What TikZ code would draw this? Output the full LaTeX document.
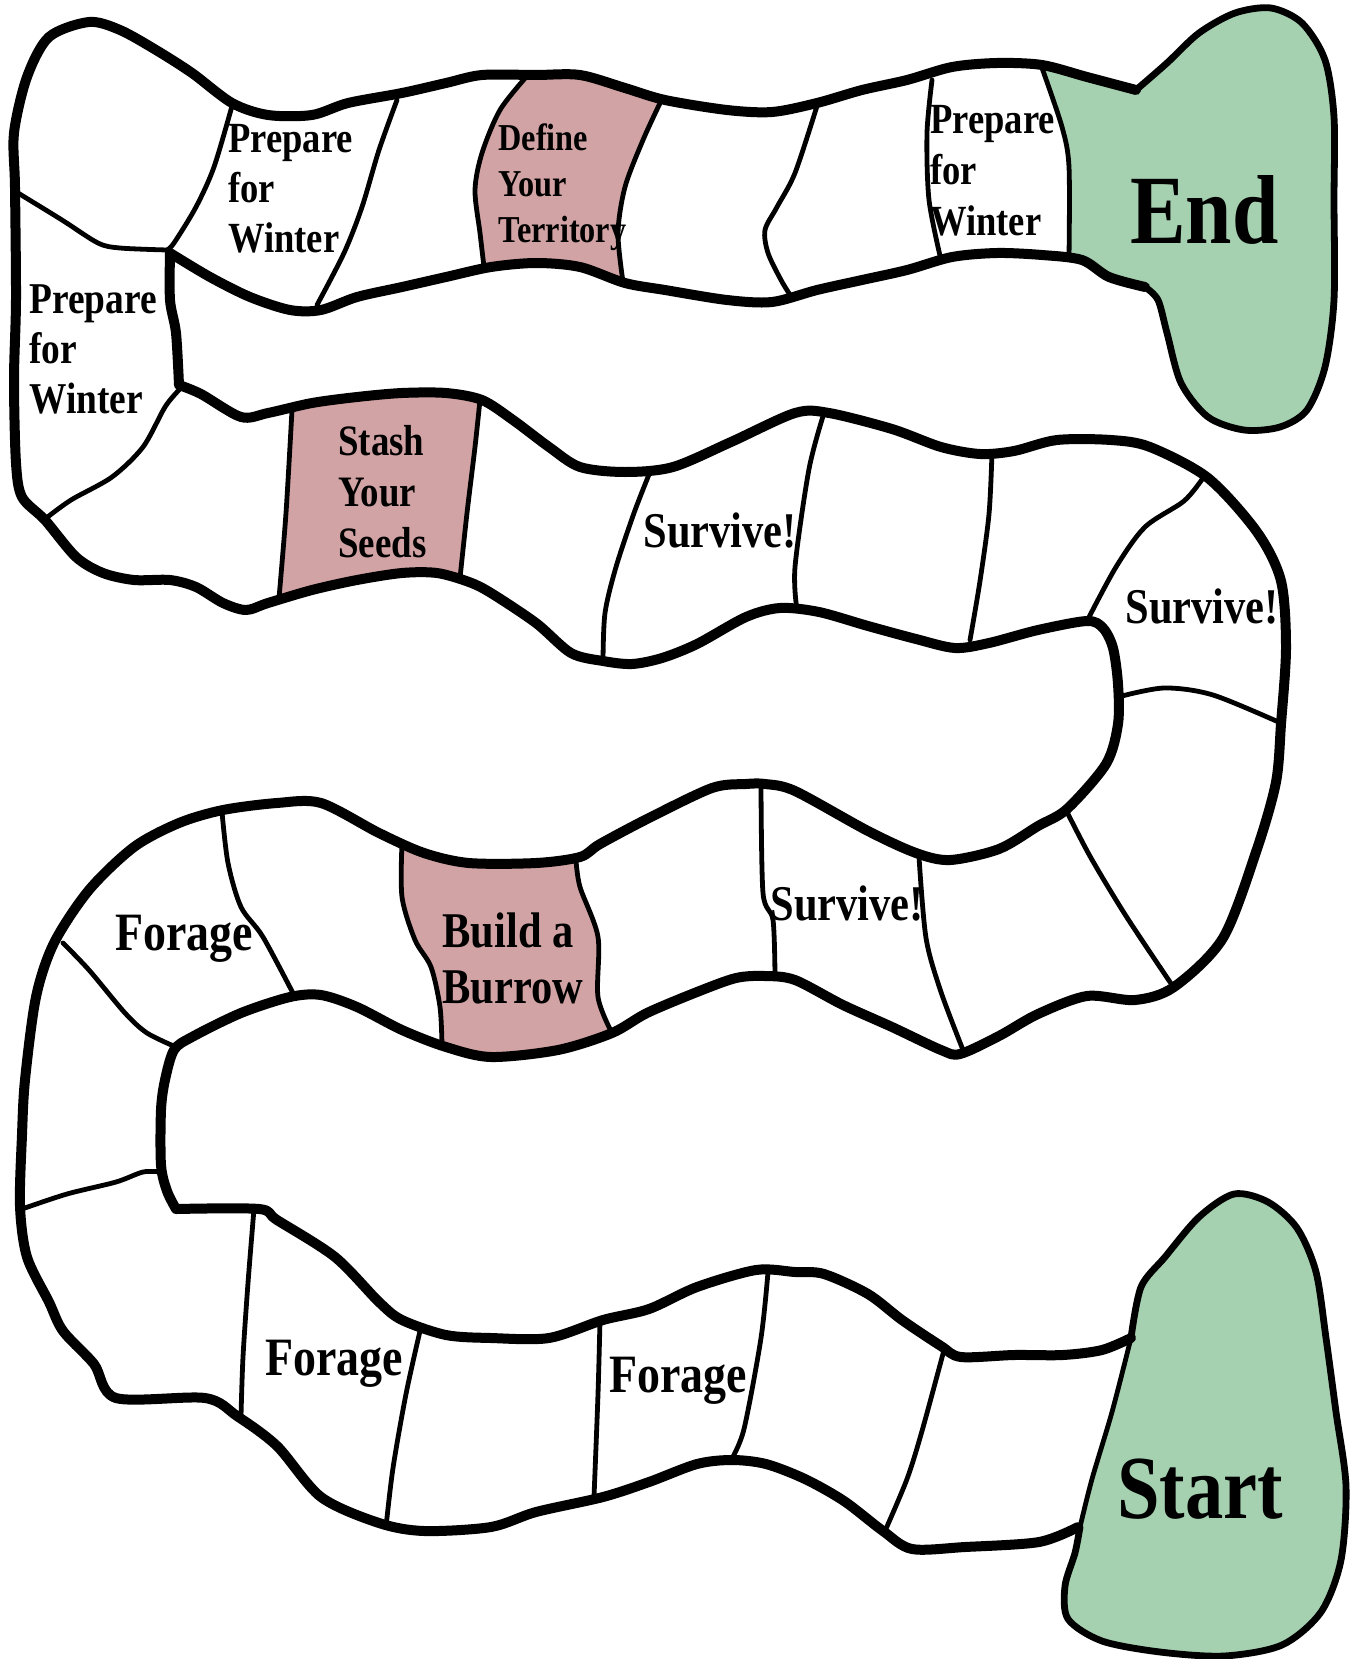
\documentclass[tikz,border=0pt]{standalone}
\usepackage{fontspec}
\setmainfont{Liberation Serif}[FakeStretch=0.85]
\definecolor{ink}{RGB}{0,0,0}
\definecolor{rose}{RGB}{210,163,164}
\definecolor{sage}{RGB}{165,209,176}
\begin{document}
\begin{tikzpicture}[x=0.5pt,y=-0.5pt,line cap=round,line join=round,
  edge/.style={ink,line width=5pt},
  divider/.style={ink,line width=2.4pt},
  rim/.style={ink,line width=3.4pt},
  lbl/.style={text=ink,anchor=base west,inner sep=0pt,align=left}]
\useasboundingbox (0,0) rectangle (1364,1659);
% coloured squares
\fill[rose] plot[smooth] coordinates {(527,76) (580,75) (625,88) (661,101)}
  -- plot[smooth] coordinates {(661,101) (643,140) (625,187) (618,233) (623,282)}
  -- plot[smooth] coordinates {(623,282) (580,267) (536,263) (484,267)}
  -- plot[smooth] coordinates {(484,267) (480,233) (475,190) (482,153) (500,110) (527,76)} -- cycle;
\fill[rose] plot[smooth] coordinates {(292,410) (312,403) (357,397) (402,393) (446,393) (480,400)}
  -- plot[smooth] coordinates {(480,400) (475,447) (467,513) (460,578)}
  -- plot[smooth] coordinates {(460,578) (437,573) (402,573) (357,580) (312,590) (279,598)}
  -- plot[smooth] coordinates {(279,598) (286,513) (292,410)} -- cycle;
\fill[rose] plot[smooth] coordinates {(402,843) (424,853) (469,863) (536,863) (576,860)}
  -- plot[smooth] coordinates {(576,860) (580,887) (598,937) (598,997) (612,1033)}
  -- plot[smooth] coordinates {(612,1033) (558,1050) (491,1057) (442,1046)}
  -- plot[smooth] coordinates {(442,1046) (440,1007) (431,967) (415,940) (402,897) (402,843)} -- cycle;
% end and start
\fill[sage] plot[smooth] coordinates {(1136,90) (1167,63) (1199,33) (1235,13) (1271,8) (1302,23) (1325,60) (1334,117) (1334,200) (1334,300) (1325,367) (1307,410) (1280,427) (1244,430) (1208,417) (1181,383) (1167,333) (1158,300) (1145,287) (1109,277) (1082,260) (1069,257)}
  -- plot[smooth] coordinates {(1069,257) (1069,167) (1062,127) (1042,68)}
  -- plot[smooth] coordinates {(1042,68) (1087,77) (1136,90)} -- cycle;
\fill[sage] plot[smooth] coordinates {(1131,1338) (1141,1287) (1165,1257) (1199,1217) (1234,1194) (1268,1202) (1297,1228) (1316,1272) (1326,1338) (1336,1412) (1346,1486) (1341,1560) (1321,1612) (1282,1645) (1224,1656) (1160,1652) (1102,1641) (1068,1619) (1065,1586) (1075,1553) (1080,1527)}
  -- plot[smooth] coordinates {(1080,1527) (1092,1479) (1112,1412) (1131,1338)} -- cycle;
\draw[rim] plot[smooth] coordinates {(1136,90) (1167,63) (1199,33) (1235,13) (1271,8) (1302,23) (1325,60) (1334,117) (1334,200) (1334,300) (1325,367) (1307,410) (1280,427) (1244,430) (1208,417) (1181,383) (1167,333) (1158,300) (1145,287)};
\draw[rim] plot[smooth] coordinates {(1131,1338) (1141,1287) (1165,1257) (1199,1217) (1234,1194) (1268,1202) (1297,1228) (1316,1272) (1326,1338) (1336,1412) (1346,1486) (1341,1560) (1321,1612) (1282,1645) (1224,1656) (1160,1652) (1102,1641) (1068,1619) (1065,1586) (1075,1553) (1080,1527)};
% track edges
\draw[edge] plot[smooth] coordinates {(1136,90) (1087,77) (1042,65) (997,63) (952,67) (907,80) (862,90) (817,103) (772,112) (727,110) (665,100) (625,88) (580,75) (536,75) (482,75) (446,83) (402,93) (348,103) (312,115) (268,115) (232,103) (192,73) (156,50) (120,30) (89,22) (49,37) (27,77) (14,133) (15,187) (16,300) (14,380) (16,463) (22,497) (45,520) (76,557) (103,573) (134,580) (170,580) (196,587) (223,603) (246,610) (268,603) (312,590) (357,580) (402,573) (437,573) (469,582) (491,593) (536,623) (571,653) (603,661) (632,664) (662,658) (697,644) (746,617) (780,608) (819,612) (868,626) (916,639) (955,648) (989,643) (1038,630) (1087,621) (1103,628) (1113,648) (1118,684) (1118,724) (1106,764) (1067,809) (1038,826) (999,849) (950,860) (916,853) (868,831) (795,791) (765,784) (746,784) (712,788) (649,818) (600,844) (580,857) (536,863) (469,863) (424,853) (379,833) (321,803) (277,803) (223,810) (179,823) (134,847) (89,890) (54,943) (36,997) (25,1080) (22,1135) (20,1206) (27,1257) (49,1302) (63,1331) (94,1364) (116,1398) (205,1398) (237,1416) (277,1446) (321,1497) (379,1523) (424,1531) (491,1527) (536,1512) (603,1497) (649,1482) (697,1464) (732,1460) (766,1464) (805,1479) (844,1501) (883,1531) (912,1549) (965,1547) (1039,1542) (1078,1527)};
\draw[edge] plot[smooth] coordinates {(1145,287) (1109,277) (1082,260) (1042,255) (997,253) (952,257) (907,270) (862,280) (817,290) (772,302) (727,300) (665,290) (625,283) (580,267) (536,263) (491,267) (446,277) (402,287) (357,297) (321,310) (290,310) (250,297) (210,277) (170,253)}
  -- plot[smooth] coordinates {(170,253) (170,300) (176,333) (179,385)}
  -- plot[smooth] coordinates {(179,385) (201,394) (241,417) (268,413) (312,403) (357,397) (402,393) (446,393) (482,400) (513,420) (549,447) (580,467) (625,472) (673,467) (731,442) (795,413) (829,413) (892,429) (941,447) (980,454) (1014,451) (1057,440) (1111,440) (1150,447) (1208,478) (1257,532) (1281,581) (1286,648) (1281,724) (1276,782) (1257,849) (1223,938) (1174,987) (1135,1000) (1087,996) (1038,1014) (999,1036) (960,1054) (941,1050) (892,1027) (843,1005) (795,980) (765,976) (736,978) (697,992) (647,1013) (612,1033) (558,1050) (491,1057) (446,1047) (402,1030) (357,1007) (321,995) (290,997) (241,1013) (192,1037) (174,1050) (165,1080) (161,1110) (161,1165) (167,1191) (176,1209)}
  -- plot[smooth] coordinates {(176,1209) (259,1209) (277,1220) (335,1257) (379,1302) (402,1320) (446,1335) (491,1338) (549,1338) (603,1320) (649,1309) (697,1287) (756,1270) (795,1272) (824,1274) (868,1294) (902,1320) (941,1346) (961,1357) (1014,1355) (1063,1355) (1102,1350) (1131,1338)};
% square borders
\draw[divider] plot[smooth] coordinates {(18,193) (62,220) (98,243) (120,248) (167,250)};
\draw[divider] plot[smooth] coordinates {(232,106) (214,167) (196,207) (174,243) (167,250)};
\draw[divider] plot[smooth] coordinates {(397,100) (379,150) (362,207) (344,253) (317,305)};
\draw[divider] plot[smooth] coordinates {(527,76) (500,110) (482,153) (475,190) (480,233) (484,267)};
\draw[divider] plot[smooth] coordinates {(661,101) (643,140) (625,187) (618,233) (623,282)};
\draw[divider] plot[smooth] coordinates {(817,106) (795,173) (777,207) (765,230) (768,253) (781,280) (792,298)};
\draw[divider] plot[smooth] coordinates {(932,80) (927,133) (929,200) (941,260)};
\draw[divider] plot[smooth] coordinates {(1042,68) (1062,127) (1069,167) (1069,257)};
\draw[divider] plot[smooth] coordinates {(179,390) (165,407) (143,447) (112,477) (71,500) (45,519)};
\draw[divider] plot[smooth] coordinates {(292,410) (286,513) (279,598)};
\draw[divider] plot[smooth] coordinates {(480,400) (475,447) (467,513) (460,578)};
\draw[divider] plot[smooth] coordinates {(650,472) (634,513) (616,567) (605,613) (603,661)};
\draw[divider] plot[smooth] coordinates {(824,413) (809,469) (795,567) (797,610)};
\draw[divider] plot[smooth] coordinates {(992,452) (989,514) (980,581) (970,640)};
\draw[divider] plot[smooth] coordinates {(1203,478) (1184,501) (1145,527) (1116,567) (1087,621)};
\draw[divider] plot[smooth] coordinates {(1118,697) (1164,688) (1213,695) (1283,724)};
\draw[divider] plot[smooth] coordinates {(1067,812) (1091,858) (1126,916) (1172,985)};
\draw[divider] plot[smooth] coordinates {(919,857) (926,938) (941,992) (963,1050)};
\draw[divider] plot[smooth] coordinates {(761,786) (763,893) (773,920) (775,976)};
\draw[divider] plot[smooth] coordinates {(576,860) (580,887) (598,937) (598,997) (612,1033)};
\draw[divider] plot[smooth] coordinates {(402,843) (402,897) (415,940) (431,967) (440,1007) (442,1046)};
\draw[divider] plot[smooth] coordinates {(222,812) (228,863) (241,907) (263,937) (295,997)};
\draw[divider] plot[smooth] coordinates {(63,943) (89,970) (125,1013) (147,1033) (176,1047)};
\draw[divider] plot[smooth] coordinates {(22,1209) (67,1194) (116,1182) (143,1172) (161,1172)};
\draw[divider] plot[smooth] coordinates {(254,1209) (248,1283) (243,1357) (241,1416)};
\draw[divider] plot[smooth] coordinates {(420,1331) (406,1394) (393,1468) (386,1527)};
\draw[divider] plot[smooth] coordinates {(600,1320) (598,1394) (594,1497)};
\draw[divider] plot[smooth] coordinates {(768,1272) (761,1338) (744,1429) (731,1460)};
\draw[divider] plot[smooth] coordinates {(944,1350) (922,1431) (907,1479) (885,1531)};
\draw[divider] plot[smooth] coordinates {(1131,1338) (1112,1412) (1092,1479) (1080,1527)};
% labels
\node[lbl,font=\fontsize{21.5}{25}\selectfont\bfseries] (prepTop) at (228,252) {Prepare\\for\\Winter};
\node[lbl,font=\fontsize{19}{23}\selectfont\bfseries] (territory) at (498,242) {Define\\Your\\Territory};
\node[lbl,font=\fontsize{21.5}{25.5}\selectfont\bfseries] (prepRight) at (930,235) {Prepare\\for\\Winter};
\node[lbl,font=\fontsize{49}{55}\selectfont\bfseries] (finish) at (1130,243) {End};
\node[lbl,font=\fontsize{22}{25}\selectfont\bfseries] (prepLeft) at (29,413) {Prepare\\for\\Winter};
\node[lbl,font=\fontsize{21.7}{25.5}\selectfont\bfseries] (seeds) at (338,557) {Stash\\Your\\Seeds};
\node[lbl,font=\fontsize{25}{28}\selectfont\bfseries] (surviveA) at (643,547) {Survive!};
\node[lbl,font=\fontsize{25}{28}\selectfont\bfseries] (surviveB) at (1125,623) {Survive!};
\node[lbl,font=\fontsize{25}{28}\selectfont\bfseries] (surviveC) at (770,920) {Survive!};
\node[lbl,font=\fontsize{27}{30}\selectfont\bfseries] (forageA) at (115,950) {Forage};
\node[lbl,font=\fontsize{25}{28}\selectfont\bfseries] (burrow) at (442,1003) {Build a\\Burrow};
\node[lbl,font=\fontsize{27}{30}\selectfont\bfseries] (forageB) at (265,1375) {Forage};
\node[lbl,font=\fontsize{27}{30}\selectfont\bfseries] (forageC) at (609,1392) {Forage};
\node[lbl,font=\fontsize{45}{50}\selectfont\bfseries] (begin) at (1117,1518) {Start};
\end{tikzpicture}
\end{document}
